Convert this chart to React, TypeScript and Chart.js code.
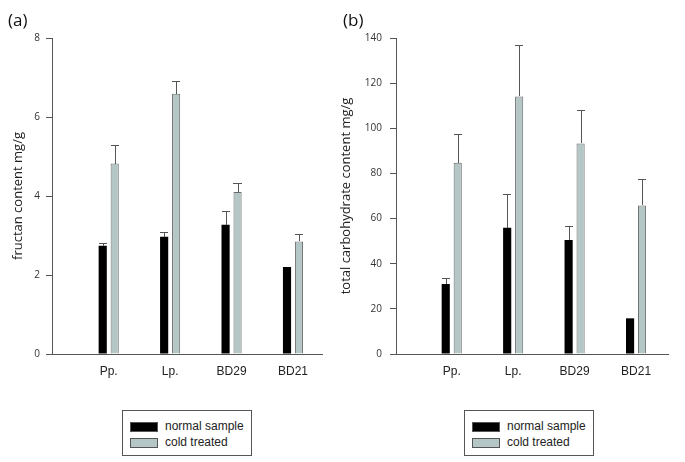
import React, { useEffect, useRef } from "react";
import { Chart, registerables } from "chart.js";

Chart.register(...registerables);

const categories = ["Pp.", "Lp.", "BD29", "BD21"];
const seriesNames = ["normal sample", "cold treated"];
const seriesColors = ["#000000", "#b5c6c6"];

// (a) fructan content mg/g
const fructanNormal = [2.74, 2.97, 3.27, 2.2];
const fructanNormalErr = [0.06, 0.13, 0.35, 0];
const fructanCold = [4.82, 6.59, 4.1, 2.85];
const fructanColdErr = [0.48, 0.32, 0.22, 0.18];
const fructanTicks = [0, 2, 4, 6, 8];

// (b) total carbohydrate content mg/g
const carbNormal = [31.0, 55.9, 50.5, 15.8];
const carbNormalErr = [2.5, 15.2, 6.3, 0];
const carbCold = [84.7, 114.1, 93.3, 65.8];
const carbColdErr = [12.8, 23.0, 14.8, 11.8];
const carbTicks = [0, 20, 40, 60, 80, 100, 120, 140];

const errorBarPlugin = {
  id: "errorBars",
  afterDatasetsDraw(chart: any) {
    const ctx = chart.ctx;
    const yScale = chart.scales.y;
    ctx.save();
    ctx.strokeStyle = "#555";
    ctx.lineWidth = 1;
    chart.data.datasets.forEach((ds: any, di: number) => {
      const meta = chart.getDatasetMeta(di);
      meta.data.forEach((el: any, j: number) => {
        const err = ds.errors ? ds.errors[j] : 0;
        if (!err) return;
        const v = ds.data[j].y;
        const top = Math.round(yScale.getPixelForValue(v + err)) + 0.5;
        const x = Math.round(el.x) + 0.5;
        const half = el.width / 2;
        ctx.beginPath();
        ctx.moveTo(x, Math.round(el.y));
        ctx.lineTo(x, top);
        ctx.moveTo(Math.round(el.x - half), top);
        ctx.lineTo(Math.round(el.x + half), top);
        ctx.stroke();
      });
    });
    ctx.restore();
  },
};

function toPoints(values: number[]) {
  return values.map((y, i) => ({ x: i + 1, y }));
}

type PanelProps = {
  left: number;
  width: number;
  height: number;
  normal: number[];
  normalErr: number[];
  cold: number[];
  coldErr: number[];
  ticks: number[];
  title: string;
  yWidth: number;
  padRight: number;
  xMin: number;
  xMax: number;
  titlePad: number;
  tickPad: number;
};

function Panel(p: PanelProps) {
  const ref = useRef<HTMLCanvasElement>(null);
  useEffect(() => {
    if (!ref.current) return;
    const chart = new Chart(ref.current, {
      type: "bar",
      data: {
        datasets: [
          {
            label: seriesNames[0],
            data: toPoints(p.normal) as any,
            backgroundColor: seriesColors[0],
            borderWidth: 0,
            errors: p.normalErr,
          } as any,
          {
            label: seriesNames[1],
            data: toPoints(p.cold) as any,
            backgroundColor: seriesColors[1],
            borderColor: "#6a6a6a",
            borderWidth: 1,
            errors: p.coldErr,
          } as any,
        ],
      },
      options: {
        animation: false,
        responsive: false,
        events: [],
        categoryPercentage: 0.39,
        barPercentage: 0.68,
        layout: { padding: { top: 38, right: p.padRight, bottom: 0, left: 0 } },
        plugins: {
          legend: { display: false },
          tooltip: { enabled: false },
          title: { display: false },
        },
        scales: {
          x: {
            type: "linear",
            min: p.xMin,
            max: p.xMax,
            offset: false,
            afterFit: (s: any) => {
              s.height = p.height - 354;
            },
            afterBuildTicks: (s: any) => {
              s.ticks = categories.map((_, i) => ({ value: i + 1 }));
            },
            grid: { display: false, drawTicks: false },
            border: { display: true, color: "#555", width: 1 },
            ticks: {
              autoSkip: false,
              maxRotation: 0,
              padding: 10,
              color: "#222",
              font: { family: "'Liberation Sans', Arial, sans-serif", size: 12 },
              callback: (v: any) => categories[Math.round(Number(v)) - 1] ?? "",
            },
          },
          y: {
            min: p.ticks[0],
            max: p.ticks[p.ticks.length - 1],
            afterFit: (s: any) => {
              s.width = p.yWidth;
            },
            afterBuildTicks: (s: any) => {
              s.ticks = p.ticks.map((v) => ({ value: v }));
            },
            grid: {
              display: true,
              drawOnChartArea: false,
              drawTicks: true,
              tickLength: 6,
              color: "#555",
              lineWidth: 1,
            },
            border: { display: true, color: "#555", width: 1 },
            ticks: {
              padding: p.tickPad,
              color: "#333",
              font: { family: "'Open Sans', sans-serif", size: 10 },
            },
            title: {
              display: true,
              text: p.title,
              color: "#222",
              padding: { top: p.titlePad, bottom: 0 },
              font: { family: "'Open Sans', sans-serif", size: 13 },
            },
          },
        },
      },
      plugins: [errorBarPlugin],
    } as any);
    return () => chart.destroy();
  }, []);
  return (
    <canvas
      ref={ref}
      width={p.width}
      height={p.height}
      style={{ position: "absolute", left: p.left, top: 0, width: p.width, height: p.height }}
    />
  );
}

function Legend({ left, top }: { left: number; top: number }) {
  return (
    <div
      style={{
        position: "absolute",
        left,
        top,
        width: 130,
        height: 46,
        border: "1px solid #555",
        boxSizing: "border-box",
        background: "#fff",
        fontFamily: "'Liberation Sans', Arial, sans-serif",
        fontSize: 12,
        color: "#222",
      }}
    >
      {seriesNames.map((name, i) => (
        <div
          key={name}
          style={{
            position: "absolute",
            left: 7,
            top: 10 + i * 16,
            height: 11,
            display: "flex",
            alignItems: "center",
            whiteSpace: "nowrap",
          }}
        >
          <span
            style={{
              display: "inline-block",
              width: 28,
              height: 10,
              background: seriesColors[i],
              border: "1px solid #555",
              boxSizing: "border-box",
              marginRight: 7,
            }}
          />
          <span style={{ lineHeight: "11px" }}>{name}</span>
        </div>
      ))}
    </div>
  );
}

const panelLabel: React.CSSProperties = {
  position: "absolute",
  top: 8,
  fontFamily: "'Open Sans', sans-serif",
  fontSize: 17,
  color: "#111",
  lineHeight: "23px",
};

export default function App() {
  return (
    <div
      style={{
        position: "absolute",
        left: 0,
        top: 0,
        width: 685,
        height: 462,
        background: "#fff",
        overflow: "hidden",
      }}
    >
      <Panel
        left={0}
        width={336}
        height={390}
        normal={fructanNormal}
        normalErr={fructanNormalErr}
        cold={fructanCold}
        coldErr={fructanColdErr}
        ticks={fructanTicks}
        title="fructan content mg/g"
        yWidth={52}
        padRight={14}
        xMin={0.077}
        xMax={4.472}
        titlePad={10}
        tickPad={6}
      />
      <Panel
        left={336}
        width={349}
        height={390}
        normal={carbNormal}
        normalErr={carbNormalErr}
        cold={carbCold}
        coldErr={carbColdErr}
        ticks={carbTicks}
        title="total carbohydrate content mg/g"
        yWidth={60}
        padRight={17}
        xMin={0.093}
        xMax={4.52}
        titlePad={2}
        tickPad={8}
      />
      <div style={{ ...panelLabel, left: 8 }}>(a)</div>
      <div style={{ ...panelLabel, left: 343 }}>(b)</div>
      <Legend left={122} top={410} />
      <Legend left={464} top={410} />
    </div>
  );
}
